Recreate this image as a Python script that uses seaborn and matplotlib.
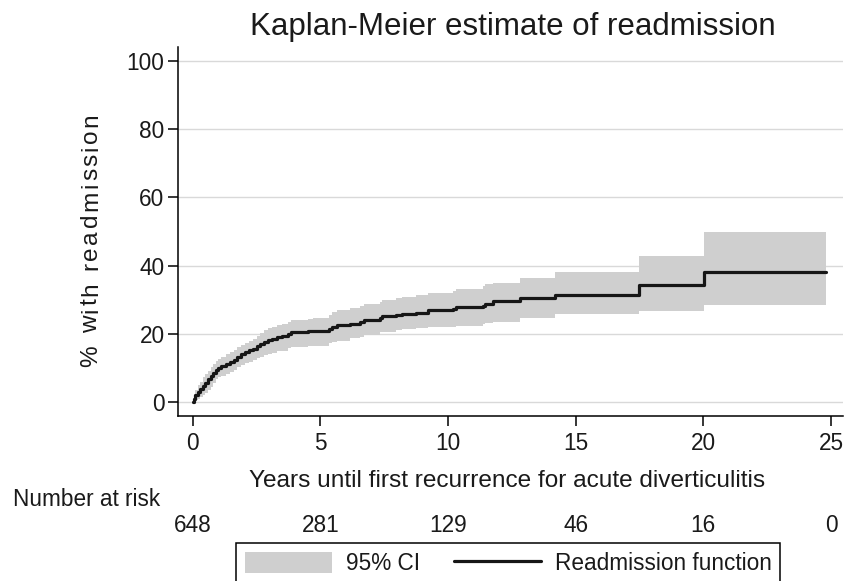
import matplotlib
matplotlib.use("Agg")
import matplotlib.pyplot as plt
import pandas as pd
import seaborn as sns
from matplotlib.patches import Patch
from matplotlib.lines import Line2D
from matplotlib.font_manager import FontProperties
from matplotlib import transforms

# ---------------- data ----------------
years = [0.00, 0.05, 0.10, 0.20, 0.30, 0.40, 0.50, 0.60, 0.70, 0.80, 0.90,
         1.00, 1.10, 1.30, 1.45, 1.60, 1.75, 1.90, 2.05, 2.20, 2.35, 2.50,
         2.65, 2.80, 2.95, 3.10, 3.30, 3.50, 3.75, 3.85, 4.50, 4.70, 5.35,
         5.45, 5.65, 6.15, 6.55, 6.70, 7.35, 7.40, 7.95, 8.20, 8.75, 9.20,
         10.20, 10.30, 11.38, 11.45, 11.75, 12.82, 14.20, 17.48, 20.02, 24.80]
km_pct = [0.0, 1.0, 2.0, 3.0, 3.8, 4.7, 5.6, 6.6, 7.5, 8.6, 9.5,
          10.1, 10.5, 11.0, 11.7, 12.4, 13.3, 14.1, 14.8, 15.2, 15.6, 16.3,
          16.9, 17.6, 18.1, 18.5, 19.0, 19.3, 20.0, 20.5, 20.7, 20.8, 21.4,
          22.0, 22.5, 23.0, 23.5, 24.0, 24.6, 25.1, 25.6, 25.8, 26.2, 27.0,
          27.2, 27.8, 28.2, 28.6, 29.6, 30.4, 31.5, 34.2, 38.1, 38.1]
ci_low = [0.0, 0.2, 0.5, 1.0, 1.5, 2.0, 2.7, 3.6, 4.5, 5.6, 6.6,
          7.2, 7.6, 8.2, 8.8, 9.4, 10.2, 10.8, 11.4, 11.8, 12.2, 12.8,
          13.3, 13.8, 14.2, 14.5, 14.9, 15.1, 15.7, 16.1, 16.3, 16.5, 17.2,
          17.6, 18.0, 18.7, 19.2, 19.6, 20.4, 20.6, 21.2, 21.3, 21.6, 21.9,
          22.0, 22.2, 22.8, 23.1, 23.6, 24.6, 25.8, 26.6, 28.4, 28.4]
ci_high = [0.0, 2.0, 3.5, 5.0, 6.0, 7.2, 8.1, 9.2, 10.2, 11.2, 12.0,
           12.7, 13.3, 14.1, 14.7, 15.3, 16.2, 16.8, 17.4, 18.0, 18.6, 19.5,
           20.3, 21.0, 21.6, 22.1, 22.6, 23.0, 23.6, 24.0, 24.3, 24.5, 25.5,
           26.3, 27.0, 27.6, 28.2, 28.6, 29.4, 29.9, 30.6, 30.9, 31.4, 31.9,
           32.6, 33.1, 34.0, 34.6, 35.0, 36.3, 38.2, 42.9, 49.8, 49.8]

risk_years = [0, 5, 10, 15, 20, 25]
number_at_risk = [648, 281, 129, 46, 16, 0]
x_ticks = [0, 5, 10, 15, 20, 25]
y_ticks = [0, 20, 40, 60, 80, 100]

title = "Kaplan-Meier estimate of readmission"
x_label = "Years until first recurrence for acute diverticulitis"
y_label = "% with readmission"
risk_label = "Number at risk"
legend_labels = ["95% CI", "Readmission function"]

# ---------------- style ----------------
sns.set_theme(style="white")
FAMILY = ['Liberation Sans', 'DejaVu Sans']
plt.rcParams['font.family'] = FAMILY

CI_COLOR = "#cfcfcf"
LINE_COLOR = "#161616"
TEXT_COLOR = "#1a1a1a"
GRID_COLOR = "#d9d9d9"

W, H = 856, 581
fig = plt.figure(figsize=(W / 100, H / 100), dpi=100)


def fx(px):
    return px / W


def fy(py):
    return 1 - py / H


ax = fig.add_axes([fx(177.7), fy(415.7), fx(843) - fx(177.7), fy(46.7) - fy(415.7)])

df = pd.DataFrame({"years": years, "km": km_pct, "lo": ci_low, "hi": ci_high})

ax.fill_between(df["years"], df["lo"], df["hi"], step="post",
                color=CI_COLOR, linewidth=0, zorder=2)
sns.lineplot(data=df, x="years", y="km", ax=ax, drawstyle="steps-post",
             color=LINE_COLOR, linewidth=2.3, estimator=None, sort=False,
             legend=False, zorder=3)

ax.set_xlim(-0.588, 25.47)
ax.set_ylim(-4.02, 104.2)
ax.set_xticks(x_ticks)
ax.set_yticks(y_ticks)
ax.set_xlabel("")
ax.set_ylabel("")

ax.yaxis.grid(True, color=GRID_COLOR, linewidth=1.0)
ax.xaxis.grid(False)
ax.set_axisbelow(True)

for side in ["top", "right"]:
    ax.spines[side].set_visible(False)
for side in ["left", "bottom"]:
    ax.spines[side].set_color("black")
    ax.spines[side].set_linewidth(1.1)

ax.tick_params(axis="both", which="major", bottom=True, left=True,
               direction="out", length=7, width=1.1, color="black",
               labelsize=16.3, labelcolor=TEXT_COLOR)
ax.tick_params(axis="x", pad=5)
ax.tick_params(axis="y", pad=2.5)

# title
fig.text(fx(512.5), fy(35), title, ha="center", va="baseline",
         fontsize=22.5, color=TEXT_COLOR)

# x label
fig.text(fx(507.5), fy(487), x_label, ha="center", va="baseline",
         fontsize=17.6, color=TEXT_COLOR)

# y label with Stata-like letter spacing
fig.canvas.draw()
renderer = fig.canvas.get_renderer()
fp = FontProperties(family=FAMILY, size=17.6)


def wpx(s):
    if s == "":
        return 0.0
    return renderer.get_text_width_height_descent(s, fp, ismath=False)[0]


total = wpx(y_label)
target = 254.0
n = len(y_label)
extra = (target - total) / (n - 1)
y_start = 367.0
x_base = 97.0
for i, ch in enumerate(y_label):
    if ch == " ":
        continue
    left = wpx(y_label[:i + 1]) - wpx(ch)
    pos = y_start - (left + i * extra)
    fig.text(fx(x_base), fy(pos), ch, rotation=90, rotation_mode="anchor",
             ha="left", va="baseline", fontproperties=fp, color=TEXT_COLOR)

# number at risk
fig.text(fx(13), fy(506), risk_label, ha="left", va="baseline",
         fontsize=16.3, color=TEXT_COLOR)
blend = transforms.blended_transform_factory(ax.transData, fig.transFigure)
for xv, nv in zip(risk_years, number_at_risk):
    ax.text(xv, fy(531.7), str(nv), transform=blend, ha="center",
            va="baseline", fontsize=16.3, color=TEXT_COLOR, clip_on=False)

# legend
handles = [Patch(facecolor=CI_COLOR, edgecolor="none"),
           Line2D([], [], color=LINE_COLOR, linewidth=2.3)]
leg = fig.legend(handles, legend_labels, loc="upper left",
                 bbox_to_anchor=(fx(236), fy(543.3)),
                 bbox_transform=fig.transFigure, borderaxespad=0,
                 ncol=2, fontsize=16.3, frameon=True, fancybox=False,
                 framealpha=1, edgecolor="black", facecolor="white",
                 handlelength=3.85, handleheight=1.03, handletextpad=0.62,
                 columnspacing=1.5, borderpad=0.38)
leg.get_frame().set_linewidth(1.1)
for t in leg.get_texts():
    t.set_color(TEXT_COLOR)

fig.savefig("out.png", dpi=100)
